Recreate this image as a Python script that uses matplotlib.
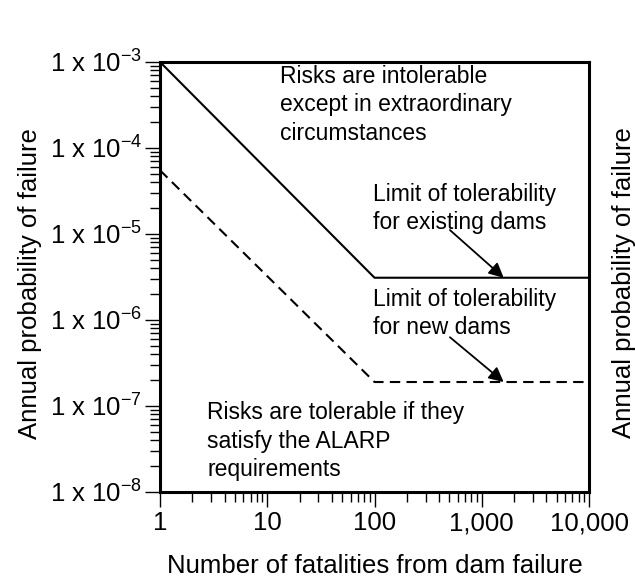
import matplotlib
matplotlib.use("Agg")
import matplotlib.pyplot as plt

plt.rcParams['font.family'] = ['Liberation Sans', 'DejaVu Sans']
plt.rcParams['mathtext.fontset'] = 'custom'
plt.rcParams['mathtext.rm'] = 'Liberation Sans'
plt.rcParams['mathtext.default'] = 'rm'

# data
fatalities = [1, 100, 10000]
existing_limit = [1e-3, 3.1e-6, 3.1e-6]
new_limit = [5.5e-5, 1.9e-7, 1.9e-7]

x_ticks = [1, 10, 100, 1000, 10000]
x_labels = ["1", "10", "100", "1,000", "10,000"]
y_ticks = [1e-8, 1e-7, 1e-6, 1e-5, 1e-4, 1e-3]
y_labels = ["1 x 10$^{-8}$", "1 x 10$^{-7}$", "1 x 10$^{-6}$",
            "1 x 10$^{-5}$", "1 x 10$^{-4}$", "1 x 10$^{-3}$"]

fig = plt.figure(figsize=(6.35, 5.83), dpi=100)
ax = fig.add_axes([0.252, 0.1561, 0.6756, 0.7376])

ax.plot(fatalities, existing_limit, color="black", lw=1.5)
ax.plot(fatalities, new_limit, color="black", lw=1.5, linestyle=(0, (5, 3)))

ax.set_xscale("log")
ax.set_yscale("log")
ax.set_xlim(1, 10000)
ax.set_ylim(1e-8, 1e-3)
ax.set_xticks(x_ticks, x_labels)
ax.set_yticks(y_ticks, y_labels)

for side in ["left", "bottom", "top", "right"]:
    ax.spines[side].set_linewidth(2.2)
ax.tick_params(axis="both", which="major", direction="out", length=11,
               width=1, labelsize=18.5, pad=3, top=False, right=False)
ax.tick_params(axis="both", which="minor", direction="out", length=7,
               width=1, top=False, right=False)
ax.tick_params(axis="y", which="major", pad=2)

ax.set_xlabel("Number of fatalities from dam failure", fontsize=18.5)
ax.xaxis.set_label_coords(0.5, -0.145)
ax.set_ylabel("Annual probability of failure", fontsize=18.5)
ax.yaxis.set_label_coords(-0.275, 0.485)
fig.text(0.983, 0.515, "Annual probability of failure", fontsize=18.5,
         rotation=90, ha="center", va="center")

ax.text(0.28, 0.9, "Risks are intolerable\nexcept in extraordinary\ncircumstances",
        transform=ax.transAxes, fontsize=16.5, ha="left", va="center", linespacing=1.3)
ax.text(0.4965, 0.659, "Limit of tolerability\nfor existing dams",
        transform=ax.transAxes, fontsize=16.5, ha="left", va="center", linespacing=1.3)
ax.text(0.4965, 0.415, "Limit of tolerability\nfor new dams",
        transform=ax.transAxes, fontsize=16.5, ha="left", va="center", linespacing=1.3)
ax.text(0.1096, 0.118, "Risks are tolerable if they\nsatisfy the ALARP\nrequirements",
        transform=ax.transAxes, fontsize=16.5, ha="left", va="center", linespacing=1.3)

arrow = dict(arrowstyle="-|>", color="black", lw=1.3, mutation_scale=22, shrinkA=0, shrinkB=0)
ax.annotate("", xy=(1600, 3.1e-6), xytext=(505, 1.11e-5), arrowprops=arrow)
ax.annotate("", xy=(1600, 1.9e-7), xytext=(505, 6.3e-7), arrowprops=arrow)

fig.savefig("out.png", dpi=100)
